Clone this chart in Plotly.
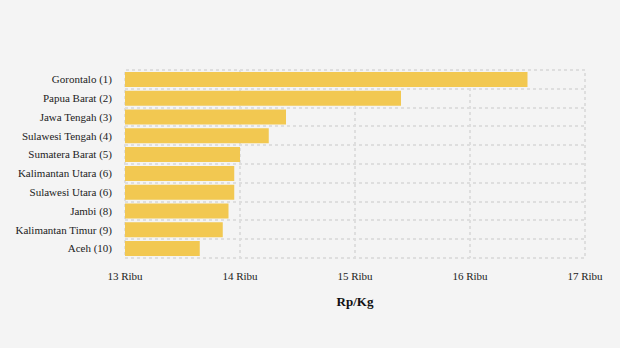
import plotly.graph_objects as go

provinces = ["Gorontalo (1)", "Papua Barat (2)", "Jawa Tengah (3)", "Sulawesi Tengah (4)",
             "Sumatera Barat (5)", "Kalimantan Utara (6)", "Sulawesi Utara (6)", "Jambi (8)",
             "Kalimantan Timur (9)", "Aceh (10)"]
prices = [16500, 15400, 14400, 14250, 14000, 13950, 13950, 13900, 13850, 13650]
tick_vals = [13000, 14000, 15000, 16000, 17000]
tick_text = ["13 Ribu", "14 Ribu", "15 Ribu", "16 Ribu", "17 Ribu"]

fig = go.Figure(go.Bar(
    x=prices, y=provinces, orientation="h",
    marker=dict(color="#F2C851", line=dict(width=0)),
))

grid = dict(gridcolor="#dedede", gridwidth=2, griddash="dot")
fig.update_layout(
    width=620, height=348,
    margin=dict(l=125, r=35, t=70, b=90),
    paper_bgcolor="#f4f4f4", plot_bgcolor="#f4f4f4",
    font=dict(family="Liberation Serif", size=11, color="#222"),
    bargap=0.2,
    showlegend=False,
    xaxis=dict(range=[13000, 17000], tickvals=tick_vals, ticktext=tick_text,
               showgrid=True, zeroline=False, showline=False, ticks="",
               ticklabelstandoff=10,
               title=dict(text="<b>Rp/Kg</b>", font=dict(size=13, color="#111"), standoff=15),
               **grid),
    yaxis=dict(autorange="reversed", tickson="boundaries", showgrid=True, ticks="",
               ticklabelstandoff=12, zeroline=False, showline=False, **grid),
    shapes=[dict(type="rect", xref="paper", yref="paper", x0=0, x1=1, y0=0, y1=1,
                 line=dict(color="#dedede", width=2, dash="dot"), layer="below")],
)
fig.write_html("out.html")
